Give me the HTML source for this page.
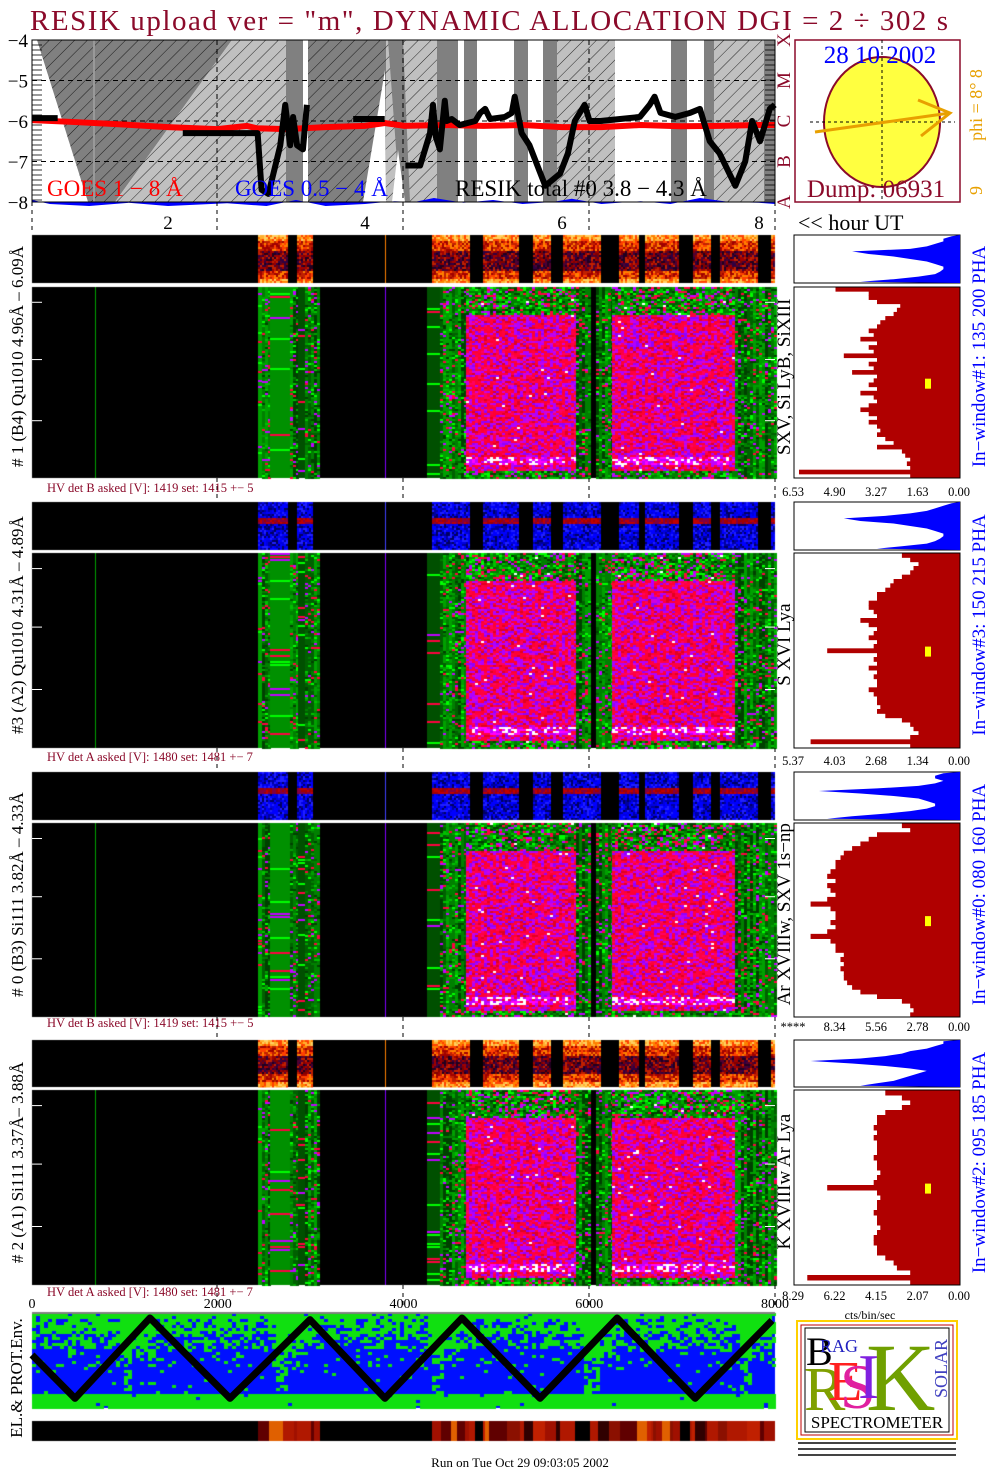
<!DOCTYPE html>
<html><head><meta charset="utf-8">
<style>
html,body{margin:0;padding:0;background:#fff;}
#wrap{position:relative;width:1004px;height:1477px;overflow:hidden;font-family:"Liberation Serif",serif;}
canvas,svg{position:absolute;left:0;top:0;}
</style></head>
<body>
<div id="wrap">
<canvas id="cv" width="1004" height="1477"></canvas>
<svg id="sv" width="1004" height="1477" xmlns="http://www.w3.org/2000/svg">
<defs>
<pattern id="hd" width="9" height="9" patternUnits="userSpaceOnUse" patternTransform="rotate(45)"><rect width="9" height="9" fill="#808080"/><line x1="0" y1="0" x2="0" y2="9" stroke="#000" stroke-width="0.8"/></pattern>
<pattern id="hl" width="9" height="9" patternUnits="userSpaceOnUse" patternTransform="rotate(45)"><rect width="9" height="9" fill="#c0c0c0"/><line x1="0" y1="0" x2="0" y2="9" stroke="#000" stroke-width="0.8"/></pattern>
</defs>
<text x="30" y="30" font-size="29" fill="#8b0a2a" textLength="918" lengthAdjust="spacing">RESIK upload ver = "m", DYNAMIC ALLOCATION  DGI =   2 ÷ 302 s</text>
<g id="goes"></g>
<g id="sun"></g>
<g id="blocks"></g>
<g id="env"></g>
<g id="logo"></g>
<text x="520" y="1467" font-size="13" text-anchor="middle">Run on Tue Oct 29 09:03:05 2002</text>
</svg>
</div>
<script>
// ---------- data ----------
const redHours=[0.62,1.0,1.5,2.0,2.5,2.8,2.9,3.2,3.6,4.0,4.2,4.4,4.8,5.2,5.6,6.0,6.4,6.8,7.2,7.6,8.0,8.16];
const redVals=[-5.98,-6.02,-6.08,-6.15,-6.2,-6.12,-6.18,-6.2,-6.15,-6.12,-6.05,-6.12,-6.1,-6.12,-6.1,-6.15,-6.15,-6.1,-6.13,-6.12,-6.1,-6.1];
const blackSegHours=[[0.62,0.88],[2.15,2.91,2.95,3.02,3.14,3.19,3.24,3.27,3.31,3.37,3.41],[3.88,4.20],
 [4.41,4.56,4.61,4.66,4.69,4.72,4.76,4.81,4.83,4.88,4.96,5.12,5.17,5.22,5.27,5.42,5.49,5.52,5.59,5.67,5.83,5.98,6.06,6.13,6.23,6.28,6.39,6.59,6.79,6.89,6.94,7.00,7.15,7.30,7.40,7.50,7.60,7.76,7.86,7.93,8.01,8.11,8.16]];
const blackSegVals=[[-5.93,-5.93],[-6.3,-6.3,-7.7,-7.8,-6.6,-5.6,-6.6,-5.9,-6.6,-6.7,-5.6],[-5.95,-5.95],
 [-7.1,-7.1,-6.7,-6.3,-5.6,-6.4,-6.7,-5.5,-6.0,-5.95,-6.1,-6.0,-5.8,-5.7,-5.95,-5.9,-5.8,-5.4,-6.3,-6.6,-7.6,-7.3,-6.8,-6.0,-5.6,-6.0,-6.0,-5.95,-5.9,-5.6,-5.4,-5.8,-5.9,-5.8,-5.7,-6.5,-6.8,-7.6,-7.0,-6.0,-6.5,-5.7,-5.6]];
const blueHours=[0.62,0.8,1.2,1.6,2.0,2.6,3.0,3.3,3.6,4.0,4.3,4.5,4.7,5.0,5.3,5.6,5.9,6.1,6.4,6.8,7.1,7.4,7.7,8.0,8.16];
const blueVals=[-7.95,-8.05,-8.1,-8.02,-8.1,-8.03,-8.1,-7.95,-8.1,-8.05,-7.98,-8.0,-7.9,-8.02,-7.95,-8.05,-8.0,-7.92,-8.05,-7.98,-8.05,-7.9,-8.0,-8.02,-8.05];
const yTicks=[-4,-5,-6,-7,-8];
const hourTicks=[2,4,6,8];
const classLetters=["X","M","C","B","A"];
const sampleTicks=[0,2000,4000,6000,8000];
const envSamples=[0,463,1270,2132,2993,3800,4630,5470,6300,7140,7968];
const envVals=[0.55,0.02,1,0.02,0.98,0.02,1,0.02,1,0.02,0.97];
const blockNames=["# 1 (B4) Qu1010 4.96Å – 6.09Å","#3 (A2) Qu1010  4.31Å – 4.89Å","# 0 (B3) Si111  3.82Å – 4.33Å","# 2 (A1) Si111  3.37Å– 3.88Å"];
const lineNames=["SXV, Si LyB, SiXIII","S XVI Lya","Ar XVIIIw, SXV 1s−np","K XVIIIw  Ar Lya"];
const windowNames=["In−window#1:  135 200 PHA","In−window#3:  150 215 PHA","In−window#0:  080 160 PHA","In−window#2:  095 185 PHA"];
const hvTexts=["HV det B asked [V]:  1419 set:  1415 +−   5","HV det A asked [V]:  1480 set:  1481 +−   7","HV det B asked [V]:  1419 set:  1415 +−   5","HV det A asked [V]:  1480 set:  1481 +−   7"];
const histTickLabels=[["6.53","4.90","3.27","1.63","0.00"],["5.37","4.03","2.68","1.34","0.00"],["****","8.34","5.56","2.78","0.00"],["8.29","6.22","4.15","2.07","0.00"]];
const redHist=[
[0.75,0.55,0.55,0.5,0.36,0.38,0.4,0.45,0.48,0.5,0.55,0.52,0.6,0.5,0.55,0.52,0.7,0.5,0.55,0.52,0.65,0.5,0.52,0.55,0.5,0.6,0.52,0.5,0.55,0.6,0.55,0.5,0.55,0.5,0.48,0.5,0.45,0.4,0.5,0.35,0.33,0.3,0.32,0.3,0.97,0.3],
[0.35,0.3,0.25,0.28,0.3,0.35,0.4,0.42,0.45,0.5,0.5,0.55,0.55,0.52,0.5,0.6,0.55,0.5,0.52,0.55,0.5,0.52,0.8,0.5,0.52,0.5,0.55,0.5,0.52,0.5,0.5,0.55,0.52,0.5,0.5,0.48,0.5,0.45,0.35,0.3,0.28,0.25,0.3,0.9,0.3],
[0.35,0.3,0.5,0.55,0.6,0.65,0.7,0.72,0.75,0.75,0.78,0.8,0.75,0.8,0.78,0.75,0.8,0.9,0.78,0.75,0.75,0.78,0.75,0.8,0.9,0.78,0.75,0.75,0.7,0.72,0.7,0.72,0.7,0.7,0.68,0.65,0.6,0.5,0.35,0.3,0.28,0.3],
[0.45,0.35,0.3,0.35,0.45,0.5,0.5,0.52,0.5,0.52,0.5,0.5,0.5,0.52,0.5,0.5,0.48,0.5,0.52,0.8,0.5,0.48,0.5,0.5,0.52,0.5,0.5,0.48,0.5,0.52,0.52,0.5,0.5,0.45,0.4,0.38,0.3,0.92,0.3]];
const blueHist=[
[0.05,0.1,0.1,0.15,0.2,0.3,0.65,0.55,0.4,0.3,0.2,0.15,0.1,0.1,0.12,0.15,0.25,0.4,0.6],
[0.05,0.1,0.15,0.2,0.3,0.45,0.7,0.6,0.4,0.3,0.2,0.15,0.1,0.1,0.12,0.15,0.2,0.35,0.5],
[0.1,0.15,0.15,0.1,0.15,0.25,0.5,0.85,0.6,0.4,0.25,0.2,0.15,0.15,0.2,0.3,0.45,0.65,0.8],
[0.1,0.1,0.15,0.2,0.3,0.35,0.45,0.6,0.9,0.65,0.45,0.3,0.2,0.25,0.3,0.35,0.4,0.5,0.6]];

// ---------- layout ----------
const GX0=32,GX1=775,GY0=40,GY1=202;
const hx=h=>168+(h-2)*98.5;
const gy=v=>GY0+(-4-v)*(GY1-GY0)/4;
const sx=s=>GX0+s*(GX1-GX0)/8000;
const NS="http://www.w3.org/2000/svg";
function mk(p,tag,at,txt){const e=document.createElementNS(NS,tag);for(const k in at)e.setAttribute(k,at[k]);if(txt!==undefined)e.textContent=txt;p.appendChild(e);return e;}
const blocks=[
 {s0:235,s1:283,m0:287,m1:478,hv:492,hot:true},
 {s0:502,s1:550,m0:553,m1:748,hv:761,hot:false},
 {s0:772,s1:820,m0:823,m1:1017,hv:1027,hot:false},
 {s0:1040,s1:1087,m0:1090,m1:1285,hv:1296,hot:true}];

// ---------- GOES panel ----------
const g=document.getElementById('goes');
mk(g,'polygon',{points:`${GX0},${GY0} 232,${GY0} 115,${GY1} 88,${GY1}`,fill:'url(#hd)'});
mk(g,'polygon',{points:`${GX0},${GY0} 37,${GY0} 88,${GY1} ${GX0},${GY1}`,fill:'#fff'});
mk(g,'polygon',{points:`232,${GY0} 288,${GY0} 288,${GY1} 115,${GY1}`,fill:'url(#hl)'});
mk(g,'rect',{x:93,y:GY0,width:2,height:162,fill:'#999'});
mk(g,'rect',{x:286,y:GY0,width:17,height:162,fill:'#808080'});
mk(g,'rect',{x:308,y:GY0,width:78,height:162,fill:'url(#hd)'});
mk(g,'polygon',{points:`363,${GY1} 385,${GY0+30} 386,${GY1}`,fill:'#fff'});
mk(g,'rect',{x:386,y:GY0,width:72,height:162,fill:'url(#hl)'});
mk(g,'polygon',{points:`388,${GY0} 403,${GY0} 410,${GY1} 400,${GY1}`,fill:'#808080'});
mk(g,'polygon',{points:`398,150 405,${GY1} 392,${GY1}`,fill:'#fff'});
mk(g,'rect',{x:437,y:GY0,width:21,height:162,fill:'#808080'});
const stripes=[[458,6,'#fff'],[464,13,'#808080'],[477,37,'#fff'],[514,14,'#808080'],[528,15,'#fff'],[543,14,'#808080'],[557,58,'url(#hl)'],[615,56,'#fff'],[671,16,'#808080'],[687,17,'#fff'],[704,10,'#808080'],[714,50,'url(#hl)'],[764,11,'#808080']];
stripes.forEach(s=>mk(g,'rect',{x:s[0],y:GY0,width:s[1],height:162,fill:s[2]}));
mk(g,'rect',{x:GX0,y:GY1,width:743,height:30,fill:'#fff'});
[-5,-6,-7].forEach(v=>mk(g,'line',{x1:GX0,x2:GX1,y1:gy(v),y2:gy(v),stroke:'#000','stroke-dasharray':'5,4','stroke-width':1}));
[217,403,589].forEach(x=>mk(g,'line',{x1:x,x2:x,y1:GY0,y2:GY1,stroke:'#000','stroke-dasharray':'5,4','stroke-width':1}));
let bp=blueHours.map((h,i)=>`${hx(h)},${gy(blueVals[i])}`).join(' ');
mk(g,'polygon',{points:`${hx(blueHours[0])},${GY1} ${bp} ${hx(8.16)},${GY1}`,fill:'#0000ff',});
mk(g,'polyline',{points:redHours.map((h,i)=>`${hx(h)},${gy(redVals[i])}`).join(' '),fill:'none',stroke:'#ff0000','stroke-width':6,});
blackSegHours.forEach((hs,j)=>{const e=mk(g,'polyline',{points:hs.map((h,i)=>`${hx(h)},${gy(blackSegVals[j][i])}`).join(' '),fill:'none',stroke:'#000','stroke-width':6,'stroke-linejoin':'round'});});
mk(g,'rect',{x:GX0,y:GY0,width:743,height:162,fill:'none',stroke:'#000','stroke-width':1});
for(let y=GY0;y<=GY1;y+=5){mk(g,'line',{x1:GX0,x2:GX0+10,y1:y,y2:y,stroke:'#000','stroke-width':0.8});mk(g,'line',{x1:GX1-10,x2:GX1,y1:y,y2:y,stroke:'#000','stroke-width':0.8});}
yTicks.forEach(v=>mk(g,'text',{x:28,y:gy(v)+7,'font-size':19,'text-anchor':'end',},'−'+(-v)));
classLetters.forEach((c,i)=>mk(g,'text',{x:0,y:0,'font-size':19,fill:'#8b0a2a','text-anchor':'middle',transform:`translate(790,${GY0+i*40.5}) rotate(-90)`},c));
mk(g,'text',{x:47,y:196,'font-size':23,fill:'#ff0000'},'GOES 1 − 8 Å');
mk(g,'text',{x:235,y:196,'font-size':23,fill:'#0000ff'},'GOES 0.5 − 4 Å');
mk(g,'text',{x:455,y:196,'font-size':23,fill:'#000'},'RESIK total #0  3.8 − 4.3 Å');
[GX0,217,403,589,GX1].forEach(x=>mk(g,'line',{x1:x,x2:x,y1:GY1,y2:233,stroke:'#000','stroke-dasharray':'4,4'}));
hourTicks.forEach(h=>mk(g,'text',{x:hx(h),y:229,'font-size':19,'text-anchor':'middle',},h));
mk(g,'text',{x:798,y:230,'font-size':22},'<< hour UT');

// ---------- sun ----------
const sn=document.getElementById('sun');
mk(sn,'rect',{x:795,y:40,width:165,height:162,fill:'#fff',stroke:'#8b0a2a','stroke-width':1.5});
mk(sn,'ellipse',{cx:882,cy:122,rx:58,ry:65,fill:'#ffff40',stroke:'#8b0a2a','stroke-width':2});
mk(sn,'line',{x1:882,x2:882,y1:40,y2:202,stroke:'#000','stroke-dasharray':'3,3'});
mk(sn,'line',{x1:810,x2:955,y1:122,y2:122,stroke:'#000','stroke-dasharray':'3,3'});
mk(sn,'polyline',{points:'815,132 950,113',stroke:'#e8a000','stroke-width':3,fill:'none'});
mk(sn,'polyline',{points:'918,100 950,113 921,136',stroke:'#e8a000','stroke-width':3,fill:'none'});
mk(sn,'text',{x:880,y:63,'font-size':25,fill:'#0000ff','text-anchor':'middle'},'28 10 2002');
mk(sn,'text',{x:876,y:197,'font-size':25,fill:'#8b0a2a','text-anchor':'middle'},'Dump: 06931');
mk(sn,'text',{x:0,y:0,'font-size':18,fill:'#e8a000','text-anchor':'middle',transform:'translate(982,105) rotate(-90)'},'phi =  8°  8');
mk(sn,'text',{x:0,y:0,'font-size':18,fill:'#e8a000',transform:'translate(982,195) rotate(-90)'},'9');

// ---------- canvas textures ----------
const cv=document.getElementById('cv'),cx=cv.getContext('2d');
let seed=12345;function rnd(){seed|=0;seed=seed+0x6D2B79F5|0;let t=Math.imul(seed^seed>>>15,1|seed);t=t+Math.imul(t^t>>>7,61|t)^t;return((t^t>>>14)>>>0)/4294967296;}
function pick(a){return a[Math.floor(rnd()*a.length)];}
const hotP=['#300040','#500030','#800000','#a00000','#c02000','#200020'];
const hotEdge=['#ff8000','#ffb030','#ff4000','#ffd060'];
const blueP=['#0000ff','#0000e0','#0000a0','#000060','#0000ff','#2020ff'];
const magP=['#ff0030','#ff0040','#e00020','#b000ff','#d000e0','#9000ff','#ff0030','#ff0040','#b000ff','#ff0060'];
const grnP=['#008000','#00a000','#006000','#004000','#00ff00','#008000','#00c000','#ff0040','#c000ff'];
const stripRegions=[[258,288],[297,312],[432,469],[483,519],[533,550],[563,600],[619,639],[645,678],[693,710],[720,758],[771,775]];
const mainRegions=[[258,262,'g'],[262,270,'m'],[270,290,'gl'],[290,298,'m'],[298,305,'dg'],[305,320,'m'],[427,440,'dg'],[440,466,'m'],[466,576,'M'],[576,590,'m'],[590,596,'k'],[596,612,'m'],[612,735,'M'],[735,775,'m']];
function hot(x,y,f,b){let c;if(b.hot){c=(f<0.12||f>0.88)?pick(hotEdge):(f<0.3||f>0.72)?pick(['#ff4000','#c02000','#ff8000','#a00000']):pick(hotP);}else{c=(f>0.3&&f<0.42)?pick(['#c00000','#800040','#a00000']):pick(blueP);}return c;}
blocks.forEach((b,bi)=>{
 cx.fillStyle='#000';cx.fillRect(GX0,b.s0,743,b.s1-b.s0);cx.fillRect(GX0,b.m0,743,b.m1-b.m0);
 stripRegions.forEach(r=>{for(let y=b.s0;y<b.s1;y+=2)for(let x=r[0];x<r[1];x+=2){cx.fillStyle=hot(x,y,(y-b.s0)/(b.s1-b.s0),b);cx.fillRect(x,y,2,2);}});
 cx.fillStyle=b.hot?'#ff8000':'#4040ff';cx.fillRect(385,b.s0,1,b.s1-b.s0);
 cx.fillStyle='#00a000';cx.fillRect(95,b.m0,1,b.m1-b.m0);cx.fillStyle='#8000ff';cx.fillRect(385,b.m0,1,b.m1-b.m0);
 mainRegions.forEach(r=>{
  if(r[2]=='k')return;
  if(r[2]=='g'||r[2]=='gl'||r[2]=='dg'){cx.fillStyle=r[2]=='g'?'#00a000':r[2]=='gl'?'#009000':'#005000';cx.fillRect(r[0],b.m0,r[1]-r[0],b.m1-b.m0);
   for(let y=b.m0;y<b.m1;y+=3)if(rnd()<0.15){cx.fillStyle=pick(['#ff0040','#c000ff','#00ff00']);cx.fillRect(r[0],y,r[1]-r[0],2);}return;}
  for(let x=r[0];x<r[1];x+=3){const base=pick(['#006000','#004000','#008000','#00a000']);
   for(let y=b.m0;y<b.m1;y+=2){const f=(y-b.m0)/(b.m1-b.m0);let c;
    if(r[2]=='M'){c=(f<0.14||f>0.96)?pick(grnP):(f>0.89&&f<0.93)?pick(['#c000ff','#ff00ff','#ffffff','#ff0040']):pick(magP);if(rnd()<0.006)c='#fff';}
    else{c=rnd()<0.55?base:pick(grnP);}
    cx.fillStyle=c;cx.fillRect(x,y,3,2);}}
 });
});
// env panel texture (patchy)
cx.fillStyle='#0010ff';cx.fillRect(GX0,1313,743,95);
for(let x=GX0;x<GX1;x+=4)for(let y=1313;y<1408;y+=3){const f=(y-1313)/95;
 const ph=((x-GX0)%155)/155;
 let p=f<0.06?0.9:f<0.22?0.75:f<0.35?0.45:f<0.55?0.12:f<0.84?0.03:0.97;
 if(ph>0.55&&ph<0.75&&f<0.5)p+=0.3;
 if(Math.abs(ph-0.6)<0.04&&f<0.85)p+=0.4;
 if(rnd()<p){cx.fillStyle='#10e010';cx.fillRect(x,y,4,3);}}
cx.fillStyle='#808080';cx.fillRect(GX0,1312,743,2);
// bottom bar
cx.fillStyle='#000';cx.fillRect(GX0,1421,743,20);
const barRegions=[[258,320],[432,475],[483,575],[590,680],[690,775]];
barRegions.forEach(r=>{let x=r[0];while(x<r[1]){const w=2+Math.floor(rnd()*10);const c=pick(['#a01000','#c02000','#600000','#300000','#e06000','#8b1000','#b01800','#b01800']);cx.fillStyle=c;cx.fillRect(x,1421,Math.min(w,r[1]-x),20);x+=w;}});

// ---------- blocks overlay ----------
const bl=document.getElementById('blocks');
blocks.forEach((b,i)=>{
 const gb=mk(bl,'g',{});
 mk(gb,'line',{x1:GX0,x2:GX1,y1:(b.s1+b.m0)/2,y2:(b.s1+b.m0)/2,stroke:'#fff','stroke-width':2});
 [0.08,0.38,0.7].forEach(f=>{const y=b.m0+f*(b.m1-b.m0);mk(gb,'line',{x1:GX0,x2:GX0+10,y1:y,y2:y,stroke:'#fff'});mk(gb,'line',{x1:GX1-10,x2:GX1,y1:y,y2:y,stroke:'#fff'});});
 [217,403,589,GX1].forEach(x=>mk(gb,'line',{x1:x,x2:x,y1:b.m1,y2:b.m1+22,stroke:'#000','stroke-dasharray':'4,4'}));
 mk(gb,'text',{x:47,y:b.hv,'font-size':12.5,fill:'#8b0a2a',},hvTexts[i]);
 mk(gb,'text',{x:0,y:0,'font-size':17,'text-anchor':'middle',transform:`translate(23,${(b.s0+b.m1)/2}) rotate(-90)`,},blockNames[i]);
 mk(gb,'text',{x:0,y:0,'font-size':19,'text-anchor':'middle',transform:`translate(790,${b.m0+(b.m1-b.m0)*0.47}) rotate(-90)`},lineNames[i]);
 mk(gb,'text',{x:0,y:0,'font-size':19,fill:'#0000ff','text-anchor':'middle',transform:`translate(985,${(b.s0+b.m1)/2}) rotate(-90)`,},windowNames[i]);
 const HX0=794,HX1=960,W=HX1-HX0;
 mk(gb,'rect',{x:HX0,y:b.s0,width:W,height:b.s1-b.s0,fill:'#fff',stroke:'#000'});
 mk(gb,'rect',{x:HX0,y:b.m0,width:W,height:b.m1-b.m0,fill:'#fff',stroke:'#000'});
 const bh=blueHist[i];let pts=`${HX1},${b.s0} `;
 bh.forEach((v,k)=>{const y=b.s0+(k+0.5)*(b.s1-b.s0)/bh.length;pts+=`${HX1-v*W},${y} `;});
 pts+=`${HX1},${b.s1}`;const bpl=mk(gb,'polygon',{points:pts,fill:'#0000ff'});
 const rh=redHist[i],rH=(b.m1-b.m0)/rh.length;
 rh.forEach((v,k)=>{const r=mk(gb,'rect',{x:HX1-v*W,y:b.m0+k*rH,width:v*W,height:rH+0.5,fill:'#b00000'});});
 mk(gb,'rect',{x:HX0,y:b.m0,width:W,height:b.m1-b.m0,fill:'none',stroke:'#000'});
 mk(gb,'rect',{x:925,y:b.m0+(b.m1-b.m0)*0.48,width:6,height:10,fill:'#ffff00'});
 histTickLabels[i].forEach((t,k)=>mk(gb,'text',{x:793+k*41.5,y:b.hv+4,'font-size':12.5,'text-anchor':'middle'},t));
});
mk(bl,'text',{x:870,y:1319,'font-size':12,'text-anchor':'middle'},'cts/bin/sec');

// ---------- env ----------
const ev=document.getElementById('env');
sampleTicks.forEach(s=>mk(ev,'text',{x:sx(s),y:1308,'font-size':14,'text-anchor':'middle',},s));
const ey=v=>1400-v*82;
const zz=mk(ev,'polyline',{points:envSamples.map((s,i)=>`${sx(s)},${ey(envVals[i])}`).join(' '),fill:'none',stroke:'#000','stroke-width':7,'stroke-linejoin':'round'});

mk(ev,'text',{x:0,y:0,'font-size':17,'text-anchor':'middle',transform:'translate(22,1378) rotate(-90)'},'EL.& PROT.Env.');

// ---------- logo ----------
const lg=document.getElementById('logo');
mk(lg,'rect',{x:797,y:1321,width:160,height:118,fill:'#fff',stroke:'#ffd000','stroke-width':2});
mk(lg,'rect',{x:801,y:1325,width:152,height:110,fill:'none',stroke:'#c00000','stroke-width':1});
mk(lg,'rect',{x:805,y:1328,width:144,height:104,fill:'none',stroke:'#000','stroke-width':1});
mk(lg,'text',{x:806,y:1365,'font-size':40,fill:'#000'},'B');
mk(lg,'text',{x:820,y:1352,'font-size':18,fill:'#2020c0'},'RAG');
mk(lg,'text',{x:804,y:1410,'font-size':62,fill:'#80a000'},'R');
mk(lg,'text',{x:828,y:1400,'font-size':56,fill:'#ff2020'},'E');
mk(lg,'text',{x:840,y:1408,'font-size':64,fill:'#e020a0'},'S');
mk(lg,'text',{x:858,y:1398,'font-size':64,fill:'#8020e0'},'I');
mk(lg,'text',{x:866,y:1410,'font-size':96,fill:'#70a000'},'K');
mk(lg,'text',{x:0,y:0,'font-size':18,fill:'#4040c0',transform:'translate(947,1398) rotate(-90)'},'SOLAR');
mk(lg,'text',{x:877,y:1428,'font-size':17,'text-anchor':'middle'},'SPECTROMETER');
[1446,1452,1458].forEach(y=>mk(lg,'rect',{x:798,y:y-4,width:158,height:2,fill:'#444'}));
</script>
</body></html>
